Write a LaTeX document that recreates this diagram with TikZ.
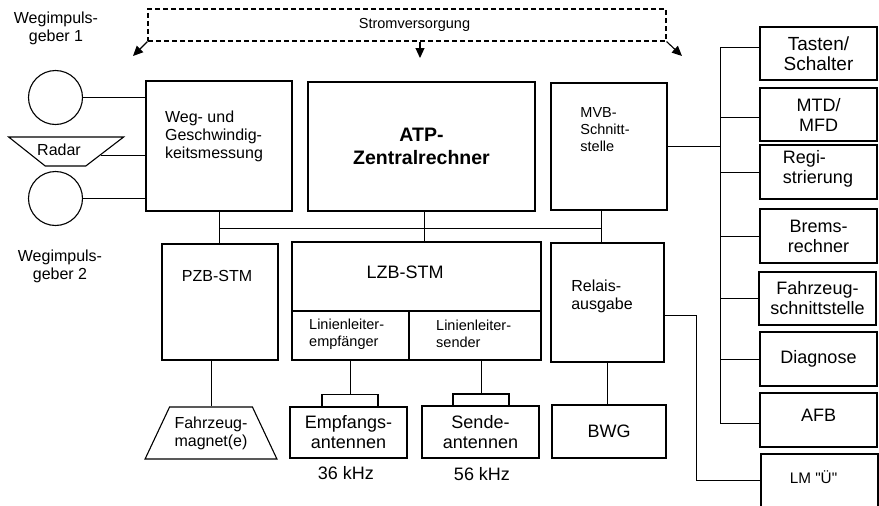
\documentclass[tikz,border=0pt]{standalone}
\usepackage{fontspec}
\setmainfont{Liberation Sans}
\usetikzlibrary{shapes.geometric,arrows.meta}
\begin{document}
\begin{tikzpicture}[x=1pt,y=-1pt,
  bx/.style={draw, line width=1.1pt, inner sep=0pt, align=center},
  ln/.style={line width=0.9pt},
  arr/.style={line width=1.1pt, -{Triangle[length=10pt,width=9pt]}},
  f14/.style={font=\fontsize{14.5}{17}\selectfont},
  f16/.style={font=\fontsize{16}{18}\selectfont},
  f18/.style={font=\fontsize{18}{20}\selectfont},
  f19/.style={font=\fontsize{19}{20.5}\selectfont},
  txt/.style={inner sep=0pt}]
\useasboundingbox (0,0) rectangle (879,506);

% power supply
\node[draw, dashed, dash pattern=on 5pt off 3pt, line width=1.1pt, minimum width=518pt, minimum height=32pt, inner sep=0pt] (psu) at (407,25) {};
\node[txt, f14] (psut) at (414.5,25) {Stromversorgung};
\coordinate (aL) at (133,56);
\coordinate (aM) at (420,58);
\coordinate (aR) at (682,56);
\draw[arr] (psu.south west) -- (aL);
\draw[arr] (psu.south -| aM) -- (aM);
\draw[arr] (psu.south east) -- (aR);

% left sensors
\node[txt, f16, align=center] (wg1) at (56,28) {Wegimpuls-\\geber 1};
\node[txt, f16, align=center] (wg2) at (60,266) {Wegimpuls-\\geber 2};
\node[draw, circle, line width=1.1pt, minimum size=54pt, inner sep=0pt] (c1) at (55.5,97.5) {};
\node[draw, circle, line width=1.1pt, minimum size=54pt, inner sep=0pt] (c2) at (55.5,198.5) {};
\node[draw, trapezium, shape border rotate=180, trapezium left angle=47, trapezium right angle=48,
      trapezium stretches=true, minimum width=115pt, minimum height=29pt, inner sep=2pt, line width=1.1pt] (radar) at (65.5,151.5) {};
\node[txt, f16] (radart) at (59,150) {Radar};

% main boxes
\node[bx, minimum width=146pt, minimum height=130pt] (weg) at (219,146) {};
\node[txt, f16, align=left] (wegt) at (214,136) {Weg- und\\Geschwindig-\\keitsmessung};
\node[bx, line width=2pt, minimum width=227pt, minimum height=129pt, font=\bfseries\fontsize{19.5}{23}\selectfont] (atp) at (421.5,146.5) {ATP-\\Zentralrechner};
\node[bx, minimum width=116pt, minimum height=127pt] (mvb) at (609,146.5) {};
\node[txt, f14, align=left] (mvbt) at (605,130) {MVB-\\Schnitt-\\stelle};

\draw[ln] (c1.east) -- (c1.east -| weg.west);
\draw[ln] (radar.-6) -- (radar.-6 -| weg.west);
\draw[ln] (c2.east) -- (c2.east -| weg.west);

% second row
\node[bx, line width=1.4pt, minimum width=116pt, minimum height=116pt] (pzb) at (220,302) {};
\node[txt, f16] (pzbt) at (217,276) {PZB-STM};
\node[bx, minimum width=249pt, minimum height=118pt] (lzb) at (416.5,301) {};
\node[txt, f18] (lzbt) at (405,272) {LZB-STM};
\draw[line width=1.1pt] (lzb.west |- 0,311) -- (lzb.east |- 0,311);
\draw[line width=1.1pt] (409,311) -- (lzb.south -| 409,0);
\node[txt, f14, align=left, anchor=west] (llE) at (309,334) {Linienleiter-\\empfänger};
\node[txt, f14, align=left, anchor=west] (llS) at (436,334) {Linienleiter-\\sender};
\node[bx, line width=1.4pt, minimum width=113pt, minimum height=119pt] (relais) at (607.5,302.5) {};
\node[txt, f16, align=left] (relaist) at (602,296) {Relais-\\ausgabe};

% bus
\coordinate (busL) at (219,228);
\coordinate (busR) at (601,228);
\draw[ln] (weg.south) -- (weg.south |- pzb.north);
\draw[ln] (busL) -- (busR);
\draw[ln] (busR |- mvb.south) -- (busR |- relais.north);
\draw[ln] ([xshift=2.5pt]atp.south) -- ([xshift=2.5pt]atp.south |- lzb.north);

% bottom row
\node[draw, trapezium, trapezium left angle=57.6, trapezium right angle=57.6, trapezium stretches=true,
      minimum width=132pt, minimum height=52pt, inner sep=1pt, line width=1.1pt, f16, align=center] (mag) at (211,433) {Fahrzeug-\\magnet(e)};
\draw[ln] (mag.north |- pzb.south) -- (mag.north);

\node[bx, minimum width=56pt, minimum height=12pt] (brE) at (350,400.5) {};
\node[bx, minimum width=117pt, minimum height=51pt, f18] (emp) at (348.5,432.5) {Empfangs-\\antennen};
\node[bx, minimum width=56pt, minimum height=12pt] (brS) at (481,400) {};
\node[bx, minimum width=117pt, minimum height=52pt, f18] (sen) at (480.5,432) {Sende-\\antennen};
\draw[ln] (brE.north |- lzb.south) -- (brE.north);
\draw[ln] (brS.north |- lzb.south) -- (brS.north);
\node[txt, f18] (k36) at (346,473) {36 kHz};
\node[txt, f18] (k56) at (482,474) {56 kHz};

\node[bx, minimum width=114pt, minimum height=53pt, f18] (bwg) at (609,431.5) {BWG};
\draw[ln] (relais.south) -- (relais.south |- bwg.north);

% right column
\node[bx, minimum width=117pt, minimum height=53pt, f19] (tas) at (818.5,53.5) {Tasten/\\Schalter};
\node[bx, minimum width=117pt, minimum height=53pt, f18] (mtd) at (818.5,114.5) {MTD/\\MFD};
\node[bx, minimum width=117pt, minimum height=54pt, f18] (regi) at (818.5,172) {};
\node[txt, f18, align=left] (regit) at (818,168.5) {Regi-\\strierung};
\node[bx, minimum width=117pt, minimum height=54pt, f18] (brm) at (818.5,236) {Brems-\\rechner};
\node[bx, minimum width=117pt, minimum height=53pt, f18] (fzs) at (817.5,298.5) {Fahrzeug-\\schnittstelle};
\node[bx, minimum width=117pt, minimum height=54pt, f18] (dia) at (818.5,359) {Diagnose};
\node[bx, minimum width=117pt, minimum height=54pt, f18] (afb) at (818.5,420) {};
\node[txt, f18] (afbt) at (818.5,415) {AFB};
\node[bx, minimum width=117pt, minimum height=70pt] (lm) at (819.5,489) {};
\node[txt, font=\fontsize{15.3}{18}\selectfont] (lmt) at (813.5,477) {LM \textquotedbl Ü\textquotedbl};

\coordinate (vb) at (720,0);
\draw[ln] (vb |- 0,47) -- (vb |- 0,423);
\draw[ln] (mvb.east) -- (vb |- mvb.east);
\draw[ln] (vb |- 0,47) -- (tas.west |- 0,47);
\draw[ln] (vb |- 0,117) -- (mtd.west |- 0,117);
\draw[ln] (vb |- regi.west) -- (regi.west);
\draw[ln] (vb |- brm.west) -- (brm.west);
\draw[ln] (vb |- fzs.west) -- (fzs.west);
\draw[ln] (vb |- dia.west) -- (dia.west);
\draw[ln] (vb |- 0,423) -- (afb.west |- 0,423);

\draw[ln] (relais.east) ++(0,12.5) -| (696,480) -- (lm.west |- 0,480);
\end{tikzpicture}
\end{document}
